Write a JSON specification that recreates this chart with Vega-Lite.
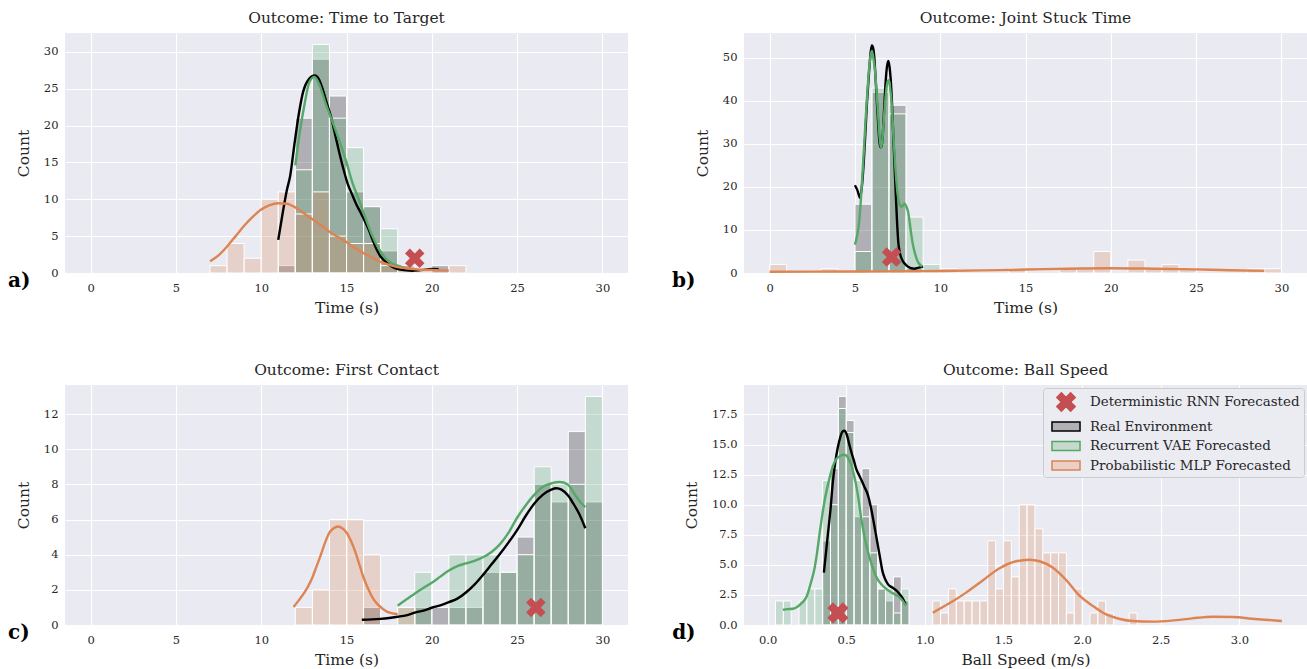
{
"$schema": "https://vega.github.io/schema/vega-lite/v6.json",
"background": "white",
"padding": {"left": 8, "top": 10, "right": 0, "bottom": 0},
"config": {
  "font": "DejaVu Serif",
  "view": {"fill": "#eaeaf2", "stroke": null},
  "axis": {"domain": false, "ticks": false, "grid": true, "gridColor": "#ffffff", "gridWidth": 1.1, "labelFont": "DejaVu Serif", "labelFontSize": 11.5, "labelColor": "#262626", "titleFont": "DejaVu Serif", "titleFontSize": 15.5, "titleFontWeight": "normal", "titleColor": "#262626", "labelFlush": false, "labelOverlap": false},
  "axisX": {"labelPadding": 9, "titlePadding": 7},
  "axisY": {"labelPadding": 7, "titlePadding": 12},
  "title": {"font": "DejaVu Serif", "fontSize": 15.5, "fontWeight": "normal", "color": "#262626", "offset": 7}
},
"datasets": {
  "bars": [
    {"p":"a","s":"R","x":11,"xe":12,"y":1},{"p":"a","s":"R","x":12,"xe":13,"y":21},{"p":"a","s":"R","x":13,"xe":14,"y":29},{"p":"a","s":"R","x":14,"xe":15,"y":24},{"p":"a","s":"R","x":15,"xe":16,"y":11},{"p":"a","s":"R","x":16,"xe":17,"y":9},{"p":"a","s":"R","x":17,"xe":18,"y":3},{"p":"a","s":"R","x":20,"xe":21,"y":1},
    {"p":"a","s":"V","x":12,"xe":13,"y":14},{"p":"a","s":"V","x":13,"xe":14,"y":31},{"p":"a","s":"V","x":14,"xe":15,"y":21},{"p":"a","s":"V","x":15,"xe":16,"y":17},{"p":"a","s":"V","x":16,"xe":17,"y":9},{"p":"a","s":"V","x":17,"xe":18,"y":6},{"p":"a","s":"V","x":18,"xe":19,"y":1},
    {"p":"a","s":"M","x":7,"xe":8,"y":1},{"p":"a","s":"M","x":8,"xe":9,"y":4},{"p":"a","s":"M","x":9,"xe":10,"y":2},{"p":"a","s":"M","x":10,"xe":11,"y":10},{"p":"a","s":"M","x":11,"xe":12,"y":11},{"p":"a","s":"M","x":12,"xe":13,"y":8},{"p":"a","s":"M","x":13,"xe":14,"y":11},{"p":"a","s":"M","x":14,"xe":15,"y":5},{"p":"a","s":"M","x":15,"xe":16,"y":4},{"p":"a","s":"M","x":16,"xe":17,"y":4},{"p":"a","s":"M","x":17,"xe":18,"y":1},{"p":"a","s":"M","x":18,"xe":19,"y":1},{"p":"a","s":"M","x":21,"xe":22,"y":1},
    {"p":"b","s":"R","x":5,"xe":6,"y":16},{"p":"b","s":"R","x":6,"xe":7,"y":42},{"p":"b","s":"R","x":7,"xe":8,"y":39},{"p":"b","s":"R","x":8,"xe":9,"y":1},
    {"p":"b","s":"V","x":5,"xe":6,"y":5},{"p":"b","s":"V","x":6,"xe":7,"y":43},{"p":"b","s":"V","x":7,"xe":8,"y":37},{"p":"b","s":"V","x":8,"xe":9,"y":13},{"p":"b","s":"V","x":9,"xe":10,"y":2},
    {"p":"b","s":"M","x":0,"xe":1,"y":2},{"p":"b","s":"M","x":3,"xe":4,"y":1},{"p":"b","s":"M","x":10,"xe":11,"y":1},{"p":"b","s":"M","x":14,"xe":15,"y":1},{"p":"b","s":"M","x":17,"xe":18,"y":1},{"p":"b","s":"M","x":18,"xe":19,"y":1},{"p":"b","s":"M","x":19,"xe":20,"y":5},{"p":"b","s":"M","x":21,"xe":22,"y":3},{"p":"b","s":"M","x":22,"xe":23,"y":1},{"p":"b","s":"M","x":23,"xe":24,"y":2},{"p":"b","s":"M","x":24,"xe":25,"y":1},{"p":"b","s":"M","x":28,"xe":29,"y":1},{"p":"b","s":"M","x":29,"xe":30,"y":1},
    {"p":"c","s":"R","x":16,"xe":17,"y":1},{"p":"c","s":"R","x":19,"xe":20,"y":1},{"p":"c","s":"R","x":20,"xe":21,"y":1},{"p":"c","s":"R","x":21,"xe":22,"y":1},{"p":"c","s":"R","x":22,"xe":23,"y":1},{"p":"c","s":"R","x":23,"xe":24,"y":3},{"p":"c","s":"R","x":24,"xe":25,"y":3},{"p":"c","s":"R","x":25,"xe":26,"y":5},{"p":"c","s":"R","x":26,"xe":27,"y":8},{"p":"c","s":"R","x":27,"xe":28,"y":7},{"p":"c","s":"R","x":28,"xe":29,"y":11},{"p":"c","s":"R","x":29,"xe":30,"y":7},
    {"p":"c","s":"V","x":18,"xe":19,"y":1},{"p":"c","s":"V","x":19,"xe":20,"y":3},{"p":"c","s":"V","x":21,"xe":22,"y":4},{"p":"c","s":"V","x":22,"xe":23,"y":4},{"p":"c","s":"V","x":23,"xe":24,"y":4},{"p":"c","s":"V","x":24,"xe":25,"y":3},{"p":"c","s":"V","x":25,"xe":26,"y":4},{"p":"c","s":"V","x":26,"xe":27,"y":9},{"p":"c","s":"V","x":27,"xe":28,"y":8},{"p":"c","s":"V","x":28,"xe":29,"y":8},{"p":"c","s":"V","x":29,"xe":30,"y":13},
    {"p":"c","s":"M","x":12,"xe":13,"y":1},{"p":"c","s":"M","x":13,"xe":14,"y":2},{"p":"c","s":"M","x":14,"xe":15,"y":6},{"p":"c","s":"M","x":15,"xe":16,"y":6},{"p":"c","s":"M","x":16,"xe":17,"y":4},{"p":"c","s":"M","x":18,"xe":19,"y":1},
    {"p":"d","s":"R","x":0.35,"xe":0.40,"y":7},{"p":"d","s":"R","x":0.40,"xe":0.45,"y":13},{"p":"d","s":"R","x":0.45,"xe":0.50,"y":19},{"p":"d","s":"R","x":0.50,"xe":0.55,"y":17},{"p":"d","s":"R","x":0.55,"xe":0.60,"y":9},{"p":"d","s":"R","x":0.60,"xe":0.65,"y":13},{"p":"d","s":"R","x":0.65,"xe":0.70,"y":10},{"p":"d","s":"R","x":0.70,"xe":0.75,"y":3},{"p":"d","s":"R","x":0.75,"xe":0.80,"y":2},{"p":"d","s":"R","x":0.80,"xe":0.85,"y":4},{"p":"d","s":"R","x":0.85,"xe":0.90,"y":2},
    {"p":"d","s":"V","x":0.05,"xe":0.10,"y":2},{"p":"d","s":"V","x":0.10,"xe":0.15,"y":2},{"p":"d","s":"V","x":0.20,"xe":0.25,"y":2},{"p":"d","s":"V","x":0.25,"xe":0.30,"y":3},{"p":"d","s":"V","x":0.30,"xe":0.35,"y":3},{"p":"d","s":"V","x":0.35,"xe":0.40,"y":12},{"p":"d","s":"V","x":0.40,"xe":0.45,"y":10},{"p":"d","s":"V","x":0.45,"xe":0.50,"y":18},{"p":"d","s":"V","x":0.50,"xe":0.55,"y":16},{"p":"d","s":"V","x":0.55,"xe":0.60,"y":12},{"p":"d","s":"V","x":0.60,"xe":0.65,"y":9},{"p":"d","s":"V","x":0.65,"xe":0.70,"y":6},{"p":"d","s":"V","x":0.70,"xe":0.75,"y":3},{"p":"d","s":"V","x":0.75,"xe":0.80,"y":3},{"p":"d","s":"V","x":0.80,"xe":0.85,"y":1},{"p":"d","s":"V","x":0.85,"xe":0.90,"y":3},
    {"p":"d","s":"M","x":1.05,"xe":1.10,"y":2},{"p":"d","s":"M","x":1.10,"xe":1.15,"y":1},{"p":"d","s":"M","x":1.15,"xe":1.20,"y":3},{"p":"d","s":"M","x":1.20,"xe":1.25,"y":2},{"p":"d","s":"M","x":1.25,"xe":1.30,"y":2},{"p":"d","s":"M","x":1.30,"xe":1.35,"y":2},{"p":"d","s":"M","x":1.35,"xe":1.40,"y":2},{"p":"d","s":"M","x":1.40,"xe":1.45,"y":7},{"p":"d","s":"M","x":1.45,"xe":1.50,"y":3},{"p":"d","s":"M","x":1.50,"xe":1.55,"y":7},{"p":"d","s":"M","x":1.55,"xe":1.60,"y":4},{"p":"d","s":"M","x":1.60,"xe":1.65,"y":10},{"p":"d","s":"M","x":1.65,"xe":1.70,"y":10},{"p":"d","s":"M","x":1.70,"xe":1.75,"y":8},{"p":"d","s":"M","x":1.75,"xe":1.80,"y":6},{"p":"d","s":"M","x":1.80,"xe":1.85,"y":6},{"p":"d","s":"M","x":1.85,"xe":1.90,"y":6},{"p":"d","s":"M","x":1.90,"xe":1.95,"y":1},{"p":"d","s":"M","x":1.95,"xe":2.00,"y":3},{"p":"d","s":"M","x":2.05,"xe":2.10,"y":1},{"p":"d","s":"M","x":2.10,"xe":2.15,"y":2},{"p":"d","s":"M","x":2.15,"xe":2.20,"y":1},{"p":"d","s":"M","x":2.30,"xe":2.35,"y":1}
  ],
  "kde": [
    {"p":"a","s":"R","x":11.0,"y":4.5},{"p":"a","s":"R","x":11.25,"y":8},{"p":"a","s":"R","x":11.5,"y":11.2},{"p":"a","s":"R","x":11.7,"y":13.2},{"p":"a","s":"R","x":11.95,"y":17.5},{"p":"a","s":"R","x":12.2,"y":21.5},{"p":"a","s":"R","x":12.46,"y":24.6},{"p":"a","s":"R","x":12.8,"y":26.3},{"p":"a","s":"R","x":13.14,"y":26.8},{"p":"a","s":"R","x":13.4,"y":26.2},{"p":"a","s":"R","x":13.62,"y":24.8},{"p":"a","s":"R","x":13.85,"y":23},{"p":"a","s":"R","x":14.1,"y":21.1},{"p":"a","s":"R","x":14.35,"y":18.6},{"p":"a","s":"R","x":14.59,"y":16.2},{"p":"a","s":"R","x":14.83,"y":14},{"p":"a","s":"R","x":15.07,"y":12.1},{"p":"a","s":"R","x":15.32,"y":10.7},{"p":"a","s":"R","x":15.56,"y":9.4},{"p":"a","s":"R","x":15.8,"y":8.3},{"p":"a","s":"R","x":16.04,"y":7.2},{"p":"a","s":"R","x":16.3,"y":5.9},{"p":"a","s":"R","x":16.53,"y":4.5},{"p":"a","s":"R","x":16.77,"y":3.2},{"p":"a","s":"R","x":17.01,"y":2.2},{"p":"a","s":"R","x":17.25,"y":1.6},{"p":"a","s":"R","x":17.5,"y":1.1},{"p":"a","s":"R","x":17.8,"y":0.7},{"p":"a","s":"R","x":18.08,"y":0.5},{"p":"a","s":"R","x":18.5,"y":0.35},{"p":"a","s":"R","x":18.85,"y":0.3},{"p":"a","s":"R","x":19.25,"y":0.35},{"p":"a","s":"R","x":19.63,"y":0.45},{"p":"a","s":"R","x":20.0,"y":0.55},{"p":"a","s":"R","x":20.4,"y":0.5},
    {"p":"a","s":"V","x":12.0,"y":14.6},{"p":"a","s":"V","x":12.25,"y":18.9},{"p":"a","s":"V","x":12.54,"y":22.9},{"p":"a","s":"V","x":12.83,"y":25.9},{"p":"a","s":"V","x":13.12,"y":26.6},{"p":"a","s":"V","x":13.4,"y":25.6},{"p":"a","s":"V","x":13.79,"y":22.9},{"p":"a","s":"V","x":14.18,"y":20.5},{"p":"a","s":"V","x":14.57,"y":18},{"p":"a","s":"V","x":14.96,"y":15.3},{"p":"a","s":"V","x":15.34,"y":12.3},{"p":"a","s":"V","x":15.73,"y":9.9},{"p":"a","s":"V","x":16.12,"y":7.4},{"p":"a","s":"V","x":16.5,"y":5.1},{"p":"a","s":"V","x":16.89,"y":3.3},{"p":"a","s":"V","x":17.28,"y":2.0},{"p":"a","s":"V","x":17.67,"y":1.3},{"p":"a","s":"V","x":18.05,"y":0.95},{"p":"a","s":"V","x":18.34,"y":0.77},{"p":"a","s":"V","x":18.6,"y":0.7},
    {"p":"a","s":"M","x":7.0,"y":1.6},{"p":"a","s":"M","x":7.5,"y":2.4},{"p":"a","s":"M","x":8.0,"y":3.6},{"p":"a","s":"M","x":8.5,"y":5.0},{"p":"a","s":"M","x":9.0,"y":6.4},{"p":"a","s":"M","x":9.5,"y":7.6},{"p":"a","s":"M","x":10.0,"y":8.6},{"p":"a","s":"M","x":10.5,"y":9.2},{"p":"a","s":"M","x":11.0,"y":9.45},{"p":"a","s":"M","x":11.5,"y":9.4},{"p":"a","s":"M","x":12.0,"y":8.9},{"p":"a","s":"M","x":12.5,"y":8.1},{"p":"a","s":"M","x":13.0,"y":7.3},{"p":"a","s":"M","x":13.5,"y":6.5},{"p":"a","s":"M","x":14.0,"y":5.6},{"p":"a","s":"M","x":14.5,"y":4.9},{"p":"a","s":"M","x":15.0,"y":4.2},{"p":"a","s":"M","x":15.5,"y":3.4},{"p":"a","s":"M","x":16.0,"y":2.7},{"p":"a","s":"M","x":16.5,"y":2.1},{"p":"a","s":"M","x":17.0,"y":1.5},{"p":"a","s":"M","x":17.5,"y":1.1},{"p":"a","s":"M","x":18.0,"y":0.8},{"p":"a","s":"M","x":18.66,"y":0.6},{"p":"a","s":"M","x":19.3,"y":0.45},{"p":"a","s":"M","x":20.0,"y":0.4},{"p":"a","s":"M","x":20.5,"y":0.35},{"p":"a","s":"M","x":21.0,"y":0.32},
    {"p":"b","s":"R","x":5.0,"y":20.4},{"p":"b","s":"R","x":5.15,"y":19.2},{"p":"b","s":"R","x":5.3,"y":17.5},{"p":"b","s":"R","x":5.42,"y":20.5},{"p":"b","s":"R","x":5.52,"y":25.8},{"p":"b","s":"R","x":5.62,"y":33},{"p":"b","s":"R","x":5.71,"y":39.7},{"p":"b","s":"R","x":5.8,"y":45},{"p":"b","s":"R","x":5.87,"y":48.9},{"p":"b","s":"R","x":5.94,"y":51.8},{"p":"b","s":"R","x":6.0,"y":52.9},{"p":"b","s":"R","x":6.07,"y":52.3},{"p":"b","s":"R","x":6.13,"y":50.5},{"p":"b","s":"R","x":6.21,"y":45.5},{"p":"b","s":"R","x":6.29,"y":39.7},{"p":"b","s":"R","x":6.37,"y":34.5},{"p":"b","s":"R","x":6.44,"y":30.4},{"p":"b","s":"R","x":6.52,"y":29.2},{"p":"b","s":"R","x":6.58,"y":29.8},{"p":"b","s":"R","x":6.63,"y":31.9},{"p":"b","s":"R","x":6.72,"y":38.5},{"p":"b","s":"R","x":6.8,"y":44.3},{"p":"b","s":"R","x":6.88,"y":48},{"p":"b","s":"R","x":6.96,"y":49.3},{"p":"b","s":"R","x":7.03,"y":48},{"p":"b","s":"R","x":7.1,"y":45},{"p":"b","s":"R","x":7.18,"y":39},{"p":"b","s":"R","x":7.25,"y":31.9},{"p":"b","s":"R","x":7.33,"y":24.5},{"p":"b","s":"R","x":7.4,"y":18},{"p":"b","s":"R","x":7.47,"y":12},{"p":"b","s":"R","x":7.54,"y":7.3},{"p":"b","s":"R","x":7.63,"y":4.8},{"p":"b","s":"R","x":7.73,"y":3.4},{"p":"b","s":"R","x":7.85,"y":2.5},{"p":"b","s":"R","x":8.0,"y":1.85},{"p":"b","s":"R","x":8.15,"y":1.4},{"p":"b","s":"R","x":8.3,"y":1.1},{"p":"b","s":"R","x":8.5,"y":1.0},{"p":"b","s":"R","x":8.69,"y":1.2},{"p":"b","s":"R","x":9.0,"y":1.5},
    {"p":"b","s":"V","x":5.0,"y":6.6},{"p":"b","s":"V","x":5.12,"y":8.5},{"p":"b","s":"V","x":5.25,"y":11.9},{"p":"b","s":"V","x":5.35,"y":17},{"p":"b","s":"V","x":5.44,"y":22.7},{"p":"b","s":"V","x":5.54,"y":29.5},{"p":"b","s":"V","x":5.63,"y":35.8},{"p":"b","s":"V","x":5.73,"y":42},{"p":"b","s":"V","x":5.83,"y":47.4},{"p":"b","s":"V","x":5.92,"y":50.5},{"p":"b","s":"V","x":6.0,"y":51.6},{"p":"b","s":"V","x":6.1,"y":49.5},{"p":"b","s":"V","x":6.19,"y":46.6},{"p":"b","s":"V","x":6.28,"y":41.5},{"p":"b","s":"V","x":6.38,"y":35.8},{"p":"b","s":"V","x":6.45,"y":31.5},{"p":"b","s":"V","x":6.52,"y":29.2},{"p":"b","s":"V","x":6.6,"y":30.5},{"p":"b","s":"V","x":6.67,"y":34.3},{"p":"b","s":"V","x":6.77,"y":39.5},{"p":"b","s":"V","x":6.87,"y":43.5},{"p":"b","s":"V","x":6.95,"y":44.8},{"p":"b","s":"V","x":7.02,"y":44.5},{"p":"b","s":"V","x":7.08,"y":42.5},{"p":"b","s":"V","x":7.15,"y":39.7},{"p":"b","s":"V","x":7.25,"y":32.5},{"p":"b","s":"V","x":7.35,"y":25.8},{"p":"b","s":"V","x":7.45,"y":20.5},{"p":"b","s":"V","x":7.54,"y":17.3},{"p":"b","s":"V","x":7.63,"y":15.8},{"p":"b","s":"V","x":7.73,"y":15.4},{"p":"b","s":"V","x":7.83,"y":15.8},{"p":"b","s":"V","x":7.92,"y":16.1},{"p":"b","s":"V","x":8.02,"y":15.4},{"p":"b","s":"V","x":8.12,"y":14.2},{"p":"b","s":"V","x":8.22,"y":11.5},{"p":"b","s":"V","x":8.31,"y":8.8},{"p":"b","s":"V","x":8.4,"y":6.6},{"p":"b","s":"V","x":8.5,"y":4.9},{"p":"b","s":"V","x":8.6,"y":3.5},{"p":"b","s":"V","x":8.69,"y":2.6},{"p":"b","s":"V","x":8.8,"y":2.0},{"p":"b","s":"V","x":8.96,"y":1.5},
    {"p":"b","s":"M","x":0,"y":0.3},{"p":"b","s":"M","x":2.5,"y":0.32},{"p":"b","s":"M","x":5,"y":0.35},{"p":"b","s":"M","x":7.5,"y":0.4},{"p":"b","s":"M","x":10,"y":0.45},{"p":"b","s":"M","x":12.5,"y":0.6},{"p":"b","s":"M","x":15,"y":0.8},{"p":"b","s":"M","x":17.5,"y":1.0},{"p":"b","s":"M","x":20,"y":1.1},{"p":"b","s":"M","x":22.5,"y":1.0},{"p":"b","s":"M","x":25,"y":0.85},{"p":"b","s":"M","x":27,"y":0.65},{"p":"b","s":"M","x":29,"y":0.5},
    {"p":"c","s":"R","x":15.9,"y":0.3},{"p":"c","s":"R","x":16.5,"y":0.32},{"p":"c","s":"R","x":17.0,"y":0.35},{"p":"c","s":"R","x":17.5,"y":0.4},{"p":"c","s":"R","x":18.0,"y":0.47},{"p":"c","s":"R","x":18.5,"y":0.55},{"p":"c","s":"R","x":19.0,"y":0.7},{"p":"c","s":"R","x":19.5,"y":0.82},{"p":"c","s":"R","x":20.0,"y":0.98},{"p":"c","s":"R","x":20.5,"y":1.12},{"p":"c","s":"R","x":21.0,"y":1.3},{"p":"c","s":"R","x":21.5,"y":1.5},{"p":"c","s":"R","x":22.0,"y":1.85},{"p":"c","s":"R","x":22.5,"y":2.3},{"p":"c","s":"R","x":23.0,"y":2.85},{"p":"c","s":"R","x":23.5,"y":3.45},{"p":"c","s":"R","x":24.0,"y":4.05},{"p":"c","s":"R","x":24.5,"y":4.7},{"p":"c","s":"R","x":25.0,"y":5.4},{"p":"c","s":"R","x":25.5,"y":6.2},{"p":"c","s":"R","x":26.0,"y":6.9},{"p":"c","s":"R","x":26.5,"y":7.4},{"p":"c","s":"R","x":27.0,"y":7.7},{"p":"c","s":"R","x":27.3,"y":7.78},{"p":"c","s":"R","x":27.6,"y":7.7},{"p":"c","s":"R","x":28.0,"y":7.35},{"p":"c","s":"R","x":28.3,"y":6.9},{"p":"c","s":"R","x":28.65,"y":6.3},{"p":"c","s":"R","x":29.0,"y":5.5},
    {"p":"c","s":"V","x":18.0,"y":1.1},{"p":"c","s":"V","x":18.5,"y":1.45},{"p":"c","s":"V","x":19.0,"y":1.78},{"p":"c","s":"V","x":19.5,"y":2.1},{"p":"c","s":"V","x":20.0,"y":2.4},{"p":"c","s":"V","x":20.5,"y":2.75},{"p":"c","s":"V","x":21.0,"y":3.1},{"p":"c","s":"V","x":21.5,"y":3.35},{"p":"c","s":"V","x":22.0,"y":3.5},{"p":"c","s":"V","x":22.5,"y":3.65},{"p":"c","s":"V","x":23.0,"y":3.85},{"p":"c","s":"V","x":23.5,"y":4.15},{"p":"c","s":"V","x":24.0,"y":4.6},{"p":"c","s":"V","x":24.5,"y":5.25},{"p":"c","s":"V","x":25.0,"y":6.1},{"p":"c","s":"V","x":25.5,"y":6.8},{"p":"c","s":"V","x":26.0,"y":7.4},{"p":"c","s":"V","x":26.5,"y":7.85},{"p":"c","s":"V","x":27.0,"y":8.05},{"p":"c","s":"V","x":27.5,"y":8.13},{"p":"c","s":"V","x":27.95,"y":8.0},{"p":"c","s":"V","x":28.4,"y":7.4},{"p":"c","s":"V","x":28.7,"y":7.0},{"p":"c","s":"V","x":29.0,"y":6.7},
    {"p":"c","s":"M","x":11.9,"y":1.03},{"p":"c","s":"M","x":12.2,"y":1.4},{"p":"c","s":"M","x":12.5,"y":1.8},{"p":"c","s":"M","x":12.75,"y":2.2},{"p":"c","s":"M","x":13.0,"y":2.7},{"p":"c","s":"M","x":13.25,"y":3.35},{"p":"c","s":"M","x":13.5,"y":4.0},{"p":"c","s":"M","x":13.75,"y":4.7},{"p":"c","s":"M","x":14.0,"y":5.25},{"p":"c","s":"M","x":14.25,"y":5.5},{"p":"c","s":"M","x":14.5,"y":5.6},{"p":"c","s":"M","x":14.75,"y":5.5},{"p":"c","s":"M","x":15.0,"y":5.26},{"p":"c","s":"M","x":15.25,"y":4.8},{"p":"c","s":"M","x":15.5,"y":4.2},{"p":"c","s":"M","x":15.75,"y":3.45},{"p":"c","s":"M","x":16.0,"y":2.7},{"p":"c","s":"M","x":16.25,"y":2.1},{"p":"c","s":"M","x":16.5,"y":1.6},{"p":"c","s":"M","x":16.8,"y":1.2},{"p":"c","s":"M","x":17.1,"y":0.94},{"p":"c","s":"M","x":17.4,"y":0.75},{"p":"c","s":"M","x":17.7,"y":0.66},{"p":"c","s":"M","x":18.0,"y":0.62},
    {"p":"d","s":"R","x":0.358,"y":4.35},{"p":"d","s":"R","x":0.383,"y":7.5},{"p":"d","s":"R","x":0.40,"y":9.6},{"p":"d","s":"R","x":0.415,"y":11.9},{"p":"d","s":"R","x":0.43,"y":13.5},{"p":"d","s":"R","x":0.447,"y":14.8},{"p":"d","s":"R","x":0.462,"y":15.6},{"p":"d","s":"R","x":0.478,"y":16.1},{"p":"d","s":"R","x":0.49,"y":16.15},{"p":"d","s":"R","x":0.504,"y":15.8},{"p":"d","s":"R","x":0.518,"y":15.1},{"p":"d","s":"R","x":0.532,"y":14.4},{"p":"d","s":"R","x":0.548,"y":13.7},{"p":"d","s":"R","x":0.563,"y":13.0},{"p":"d","s":"R","x":0.58,"y":12.5},{"p":"d","s":"R","x":0.595,"y":12.1},{"p":"d","s":"R","x":0.615,"y":11.5},{"p":"d","s":"R","x":0.638,"y":10.8},{"p":"d","s":"R","x":0.655,"y":9.9},{"p":"d","s":"R","x":0.67,"y":8.9},{"p":"d","s":"R","x":0.685,"y":7.8},{"p":"d","s":"R","x":0.70,"y":6.7},{"p":"d","s":"R","x":0.715,"y":5.6},{"p":"d","s":"R","x":0.73,"y":4.5},{"p":"d","s":"R","x":0.748,"y":3.8},{"p":"d","s":"R","x":0.765,"y":3.4},{"p":"d","s":"R","x":0.782,"y":3.2},{"p":"d","s":"R","x":0.80,"y":3.06},{"p":"d","s":"R","x":0.82,"y":2.85},{"p":"d","s":"R","x":0.84,"y":2.56},{"p":"d","s":"R","x":0.86,"y":2.2},{"p":"d","s":"R","x":0.877,"y":1.74},
    {"p":"d","s":"V","x":0.097,"y":1.27},{"p":"d","s":"V","x":0.129,"y":1.32},{"p":"d","s":"V","x":0.16,"y":1.35},{"p":"d","s":"V","x":0.182,"y":1.46},{"p":"d","s":"V","x":0.215,"y":1.8},{"p":"d","s":"V","x":0.246,"y":2.3},{"p":"d","s":"V","x":0.275,"y":3.5},{"p":"d","s":"V","x":0.30,"y":4.8},{"p":"d","s":"V","x":0.31,"y":5.6},{"p":"d","s":"V","x":0.335,"y":8},{"p":"d","s":"V","x":0.362,"y":10.3},{"p":"d","s":"V","x":0.39,"y":12},{"p":"d","s":"V","x":0.415,"y":13.2},{"p":"d","s":"V","x":0.437,"y":13.8},{"p":"d","s":"V","x":0.457,"y":14.0},{"p":"d","s":"V","x":0.48,"y":14.15},{"p":"d","s":"V","x":0.50,"y":14.1},{"p":"d","s":"V","x":0.515,"y":13.8},{"p":"d","s":"V","x":0.53,"y":13.4},{"p":"d","s":"V","x":0.547,"y":12.6},{"p":"d","s":"V","x":0.563,"y":11.65},{"p":"d","s":"V","x":0.58,"y":10.3},{"p":"d","s":"V","x":0.595,"y":8.9},{"p":"d","s":"V","x":0.615,"y":7.4},{"p":"d","s":"V","x":0.638,"y":6.1},{"p":"d","s":"V","x":0.66,"y":5.1},{"p":"d","s":"V","x":0.68,"y":4.35},{"p":"d","s":"V","x":0.70,"y":3.8},{"p":"d","s":"V","x":0.722,"y":3.4},{"p":"d","s":"V","x":0.745,"y":3.1},{"p":"d","s":"V","x":0.765,"y":2.9},{"p":"d","s":"V","x":0.787,"y":2.7},{"p":"d","s":"V","x":0.807,"y":2.56},{"p":"d","s":"V","x":0.83,"y":2.4},{"p":"d","s":"V","x":0.85,"y":2.15},{"p":"d","s":"V","x":0.865,"y":1.9},{"p":"d","s":"V","x":0.88,"y":1.6},
    {"p":"d","s":"M","x":1.05,"y":1.02},{"p":"d","s":"M","x":1.156,"y":1.8},{"p":"d","s":"M","x":1.26,"y":2.67},{"p":"d","s":"M","x":1.37,"y":3.72},{"p":"d","s":"M","x":1.47,"y":4.68},{"p":"d","s":"M","x":1.58,"y":5.3},{"p":"d","s":"M","x":1.665,"y":5.43},{"p":"d","s":"M","x":1.73,"y":5.3},{"p":"d","s":"M","x":1.81,"y":4.8},{"p":"d","s":"M","x":1.90,"y":3.72},{"p":"d","s":"M","x":1.98,"y":2.48},{"p":"d","s":"M","x":2.07,"y":1.57},{"p":"d","s":"M","x":2.15,"y":0.9},{"p":"d","s":"M","x":2.24,"y":0.5},{"p":"d","s":"M","x":2.32,"y":0.33},{"p":"d","s":"M","x":2.45,"y":0.28},{"p":"d","s":"M","x":2.57,"y":0.36},{"p":"d","s":"M","x":2.70,"y":0.55},{"p":"d","s":"M","x":2.83,"y":0.69},{"p":"d","s":"M","x":2.96,"y":0.66},{"p":"d","s":"M","x":3.08,"y":0.52},{"p":"d","s":"M","x":3.19,"y":0.41},{"p":"d","s":"M","x":3.27,"y":0.33}
  ],
  "fc": [
    {"p":"a","x":19.0,"y":2.0,"k":"Deterministic RNN Forecasted"},
    {"p":"b","x":7.15,"y":3.7,"k":"Deterministic RNN Forecasted"},
    {"p":"c","x":26.1,"y":1.0,"k":"Deterministic RNN Forecasted"},
    {"p":"d","x":0.447,"y":1.0,"k":"Deterministic RNN Forecasted"}
  ],
  "lab": [
    {"p":"a","t":"a)"},{"p":"b","t":"b)"},{"p":"c","t":"c)"},{"p":"d","t":"d)"}
  ]
},
"columns": 2,
"spacing": {"row": 112, "column": 116},
"bounds": "flush",
"resolve": {"scale": {"fill": "independent", "stroke": "independent", "shape": "independent"}, "legend": {"fill": "independent", "stroke": "independent", "shape": "independent"}},
"concat": [
  {
    "width": 563, "height": 240,
    "title": "Outcome: Time to Target",
    "layer": [
      {"data": {"name": "bars"}, "transform": [{"filter": "datum.p === 'a'"}],
       "mark": {"type": "rect", "fillOpacity": 0.25, "stroke": "#ffffff", "strokeWidth": 1},
       "encoding": {
         "x": {"field": "x", "type": "quantitative", "title": "Time (s)", "scale": {"domain": [-1.5, 31.5], "nice": false, "zero": false}, "axis": {"values": [0,5,10,15,20,25,30]}},
         "x2": {"field": "xe"},
         "y": {"field": "y", "type": "quantitative", "title": "Count", "scale": {"domain": [0, 32.55], "nice": false, "zero": false}, "axis": {"values": [0,5,10,15,20,25,30]}},
         "y2": {"datum": 0},
         "fill": {"field": "s", "type": "nominal", "scale": {"domain": ["R","V","M"], "range": ["#000000","#55a868","#dd8452"]}, "legend": null}
       }},
      {"data": {"name": "kde"}, "transform": [{"filter": "datum.p === 'a'"}],
       "mark": {"type": "line", "strokeWidth": 2.4, "interpolate": "monotone"},
       "encoding": {
         "x": {"field": "x", "type": "quantitative", "title": "Time (s)", "axis": {"values": [0,5,10,15,20,25,30]}},
         "y": {"field": "y", "type": "quantitative", "title": "Count", "axis": {"values": [0,5,10,15,20,25,30]}},
         "stroke": {"field": "s", "type": "nominal", "scale": {"domain": ["R","V","M"], "range": ["#000000","#55a868","#dd8452"]}, "legend": null}
       }},
      {"data": {"name": "fc"}, "transform": [{"filter": "datum.p === 'a'"}],
       "mark": {"type": "point", "shape": "M-1,-0.5L-0.5,-1L0,-0.5L0.5,-1L1,-0.5L0.5,0L1,0.5L0.5,1L0,0.5L-0.5,1L-1,0.5L-0.5,0Z", "size": 380, "filled": true, "fill": "#c44e52", "opacity": 1, "strokeWidth": 0},
       "encoding": {"x": {"field": "x", "type": "quantitative", "title": "Time (s)", "axis": {"values": [0,5,10,15,20,25,30]}}, "y": {"field": "y", "type": "quantitative", "title": "Count", "axis": {"values": [0,5,10,15,20,25,30]}}}},
      {"data": {"name": "lab"}, "transform": [{"filter": "datum.p === 'a'"}],
       "mark": {"type": "text", "font": "DejaVu Serif", "fontWeight": "bold", "fontSize": 20, "align": "left", "baseline": "middle", "color": "#000000"},
       "encoding": {"x": {"datum": -4.84, "axis": {"values": [0,5,10,15,20,25,30]}}, "y": {"datum": -1.085, "axis": {"values": [0,5,10,15,20,25,30]}}, "text": {"field": "t"}}}
    ],
    "resolve": {"scale": {"fill": "independent", "stroke": "independent", "shape": "independent"}}
  },
  {
    "width": 563, "height": 240,
    "title": "Outcome: Joint Stuck Time",
    "layer": [
      {"data": {"name": "bars"}, "transform": [{"filter": "datum.p === 'b'"}],
       "mark": {"type": "rect", "fillOpacity": 0.25, "stroke": "#ffffff", "strokeWidth": 1},
       "encoding": {
         "x": {"field": "x", "type": "quantitative", "title": "Time (s)", "scale": {"domain": [-1.5, 31.5], "nice": false, "zero": false}, "axis": {"values": [0,5,10,15,20,25,30]}},
         "x2": {"field": "xe"},
         "y": {"field": "y", "type": "quantitative", "title": "Count", "scale": {"domain": [0, 55.8], "nice": false, "zero": false}, "axis": {"values": [0,10,20,30,40,50]}},
         "y2": {"datum": 0},
         "fill": {"field": "s", "type": "nominal", "scale": {"domain": ["R","V","M"], "range": ["#000000","#55a868","#dd8452"]}, "legend": null}
       }},
      {"data": {"name": "kde"}, "transform": [{"filter": "datum.p === 'b'"}],
       "mark": {"type": "line", "strokeWidth": 2.4, "interpolate": "monotone"},
       "encoding": {
         "x": {"field": "x", "type": "quantitative", "title": "Time (s)", "axis": {"values": [0,5,10,15,20,25,30]}},
         "y": {"field": "y", "type": "quantitative", "title": "Count", "axis": {"values": [0,10,20,30,40,50]}},
         "stroke": {"field": "s", "type": "nominal", "scale": {"domain": ["R","V","M"], "range": ["#000000","#55a868","#dd8452"]}, "legend": null}
       }},
      {"data": {"name": "fc"}, "transform": [{"filter": "datum.p === 'b'"}],
       "mark": {"type": "point", "shape": "M-1,-0.5L-0.5,-1L0,-0.5L0.5,-1L1,-0.5L0.5,0L1,0.5L0.5,1L0,0.5L-0.5,1L-1,0.5L-0.5,0Z", "size": 380, "filled": true, "fill": "#c44e52", "opacity": 1, "strokeWidth": 0},
       "encoding": {"x": {"field": "x", "type": "quantitative", "title": "Time (s)", "axis": {"values": [0,5,10,15,20,25,30]}}, "y": {"field": "y", "type": "quantitative", "title": "Count", "axis": {"values": [0,10,20,30,40,50]}}}},
      {"data": {"name": "lab"}, "transform": [{"filter": "datum.p === 'b'"}],
       "mark": {"type": "text", "font": "DejaVu Serif", "fontWeight": "bold", "fontSize": 20, "align": "left", "baseline": "middle", "color": "#000000"},
       "encoding": {"x": {"datum": -5.72, "axis": {"values": [0,5,10,15,20,25,30]}}, "y": {"datum": -1.86, "axis": {"values": [0,10,20,30,40,50]}}, "text": {"field": "t"}}}
    ],
    "resolve": {"scale": {"fill": "independent", "stroke": "independent", "shape": "independent"}}
  },
  {
    "width": 563, "height": 240,
    "title": "Outcome: First Contact",
    "layer": [
      {"data": {"name": "bars"}, "transform": [{"filter": "datum.p === 'c'"}],
       "mark": {"type": "rect", "fillOpacity": 0.25, "stroke": "#ffffff", "strokeWidth": 1},
       "encoding": {
         "x": {"field": "x", "type": "quantitative", "title": "Time (s)", "scale": {"domain": [-1.5, 31.5], "nice": false, "zero": false}, "axis": {"values": [0,5,10,15,20,25,30]}},
         "x2": {"field": "xe"},
         "y": {"field": "y", "type": "quantitative", "title": "Count", "scale": {"domain": [0, 13.65], "nice": false, "zero": false}, "axis": {"values": [0,2,4,6,8,10,12]}},
         "y2": {"datum": 0},
         "fill": {"field": "s", "type": "nominal", "scale": {"domain": ["R","V","M"], "range": ["#000000","#55a868","#dd8452"]}, "legend": null}
       }},
      {"data": {"name": "kde"}, "transform": [{"filter": "datum.p === 'c'"}],
       "mark": {"type": "line", "strokeWidth": 2.4, "interpolate": "monotone"},
       "encoding": {
         "x": {"field": "x", "type": "quantitative", "title": "Time (s)", "axis": {"values": [0,5,10,15,20,25,30]}},
         "y": {"field": "y", "type": "quantitative", "title": "Count", "axis": {"values": [0,2,4,6,8,10,12]}},
         "stroke": {"field": "s", "type": "nominal", "scale": {"domain": ["R","V","M"], "range": ["#000000","#55a868","#dd8452"]}, "legend": null}
       }},
      {"data": {"name": "fc"}, "transform": [{"filter": "datum.p === 'c'"}],
       "mark": {"type": "point", "shape": "M-1,-0.5L-0.5,-1L0,-0.5L0.5,-1L1,-0.5L0.5,0L1,0.5L0.5,1L0,0.5L-0.5,1L-1,0.5L-0.5,0Z", "size": 380, "filled": true, "fill": "#c44e52", "opacity": 1, "strokeWidth": 0},
       "encoding": {"x": {"field": "x", "type": "quantitative", "title": "Time (s)", "axis": {"values": [0,5,10,15,20,25,30]}}, "y": {"field": "y", "type": "quantitative", "title": "Count", "axis": {"values": [0,2,4,6,8,10,12]}}}},
      {"data": {"name": "lab"}, "transform": [{"filter": "datum.p === 'c'"}],
       "mark": {"type": "text", "font": "DejaVu Serif", "fontWeight": "bold", "fontSize": 20, "align": "left", "baseline": "middle", "color": "#000000"},
       "encoding": {"x": {"datum": -4.84, "axis": {"values": [0,5,10,15,20,25,30]}}, "y": {"datum": -0.455, "axis": {"values": [0,2,4,6,8,10,12]}}, "text": {"field": "t"}}}
    ],
    "resolve": {"scale": {"fill": "independent", "stroke": "independent", "shape": "independent"}}
  },
  {
    "width": 563, "height": 240,
    "title": "Outcome: Ball Speed",
    "layer": [
      {"data": {"name": "bars"}, "transform": [{"filter": "datum.p === 'd'"}],
       "mark": {"type": "rect", "fillOpacity": 0.25, "stroke": "#ffffff", "strokeWidth": 1},
       "encoding": {
         "x": {"field": "x", "type": "quantitative", "title": "Ball Speed (m/s)", "scale": {"domain": [-0.15, 3.43], "nice": false, "zero": false}, "axis": {"values": [0,0.5,1,1.5,2,2.5,3], "format": ".1f"}},
         "x2": {"field": "xe"},
         "y": {"field": "y", "type": "quantitative", "title": "Count", "scale": {"domain": [0, 19.95], "nice": false, "zero": false}, "axis": {"values": [0,2.5,5,7.5,10,12.5,15,17.5], "format": ".1f"}},
         "y2": {"datum": 0},
         "fill": {"field": "s", "type": "nominal", "scale": {"domain": ["R","V","M"], "range": ["#000000","#55a868","#dd8452"]}, "legend": null}
       }},
      {"data": {"name": "kde"}, "transform": [{"filter": "datum.p === 'd'"}],
       "mark": {"type": "line", "strokeWidth": 2.4, "interpolate": "monotone"},
       "encoding": {
         "x": {"field": "x", "type": "quantitative", "title": "Ball Speed (m/s)", "axis": {"values": [0,0.5,1,1.5,2,2.5,3], "format": ".1f"}},
         "y": {"field": "y", "type": "quantitative", "title": "Count", "axis": {"values": [0,2.5,5,7.5,10,12.5,15,17.5], "format": ".1f"}},
         "stroke": {"field": "s", "type": "nominal", "scale": {"domain": ["R","V","M"], "range": ["#000000","#55a868","#dd8452"]}, "legend": null}
       }},
      {"data": {"name": "fc"}, "transform": [{"filter": "datum.p === 'd'"}],
       "mark": {"type": "point", "size": 380, "filled": true, "opacity": 1, "strokeWidth": 1.2},
       "encoding": {
         "x": {"field": "x", "type": "quantitative", "title": "Ball Speed (m/s)", "axis": {"values": [0,0.5,1,1.5,2,2.5,3], "format": ".1f"}},
         "y": {"field": "y", "type": "quantitative", "title": "Count", "axis": {"values": [0,2.5,5,7.5,10,12.5,15,17.5], "format": ".1f"}},
         "fill": {"field": "k", "type": "nominal",
           "scale": {"domain": ["Deterministic RNN Forecasted","Real Environment","Recurrent VAE Forecasted","Probabilistic MLP Forecasted"], "range": ["#c44e52","#b0b0b5","#c5dacd","#e9cfc6"]},
           "legend": {"title": null, "orient": "top-right", "offset": 3, "padding": 4, "fillColor": "#ebebf2", "strokeColor": "#cccccc", "cornerRadius": 3, "labelFont": "DejaVu Serif", "labelFontSize": 13.4, "labelColor": "#262626", "symbolSize": 336, "symbolStrokeWidth": 1.5, "symbolOpacity": 1, "rowPadding": 1.5, "symbolOffset": 9, "labelOffset": 14, "labelLimit": 400}},
         "stroke": {"field": "k", "type": "nominal",
           "scale": {"domain": ["Deterministic RNN Forecasted","Real Environment","Recurrent VAE Forecasted","Probabilistic MLP Forecasted"], "range": ["#c44e52","#000000","#55a868","#dd8452"]},
           "legend": {"title": null, "orient": "top-right", "offset": 3, "padding": 4, "fillColor": "#ebebf2", "strokeColor": "#cccccc", "cornerRadius": 3, "labelFont": "DejaVu Serif", "labelFontSize": 13.4, "labelColor": "#262626", "symbolSize": 336, "symbolStrokeWidth": 1.5, "symbolOpacity": 1, "rowPadding": 1.5, "symbolOffset": 9, "labelOffset": 14, "labelLimit": 400}},
         "shape": {"field": "k", "type": "nominal",
           "scale": {"domain": ["Deterministic RNN Forecasted","Real Environment","Recurrent VAE Forecasted","Probabilistic MLP Forecasted"], "range": ["M-1,-0.5L-0.5,-1L0,-0.5L0.5,-1L1,-0.5L0.5,0L1,0.5L0.5,1L0,0.5L-0.5,1L-1,0.5L-0.5,0Z","M-1.53,-0.49L1.53,-0.49L1.53,0.49L-1.53,0.49Z","M-1.53,-0.49L1.53,-0.49L1.53,0.49L-1.53,0.49Z","M-1.53,-0.49L1.53,-0.49L1.53,0.49L-1.53,0.49Z"]},
           "legend": {"title": null, "orient": "top-right", "offset": 3, "padding": 4, "fillColor": "#ebebf2", "strokeColor": "#cccccc", "cornerRadius": 3, "labelFont": "DejaVu Serif", "labelFontSize": 13.4, "labelColor": "#262626", "symbolSize": 336, "symbolStrokeWidth": 1.5, "symbolOpacity": 1, "rowPadding": 1.5, "symbolOffset": 9, "labelOffset": 14, "labelLimit": 400}}
       }},
      {"data": {"name": "lab"}, "transform": [{"filter": "datum.p === 'd'"}],
       "mark": {"type": "text", "font": "DejaVu Serif", "fontWeight": "bold", "fontSize": 20, "align": "left", "baseline": "middle", "color": "#000000"},
       "encoding": {"x": {"datum": -0.607, "axis": {"values": [0,0.5,1,1.5,2,2.5,3], "format": ".1f"}}, "y": {"datum": -0.665, "axis": {"values": [0,2.5,5,7.5,10,12.5,15,17.5], "format": ".1f"}}, "text": {"field": "t"}}}
    ],
    "resolve": {"scale": {"fill": "independent", "stroke": "independent", "shape": "independent"}}
  }
]
}
